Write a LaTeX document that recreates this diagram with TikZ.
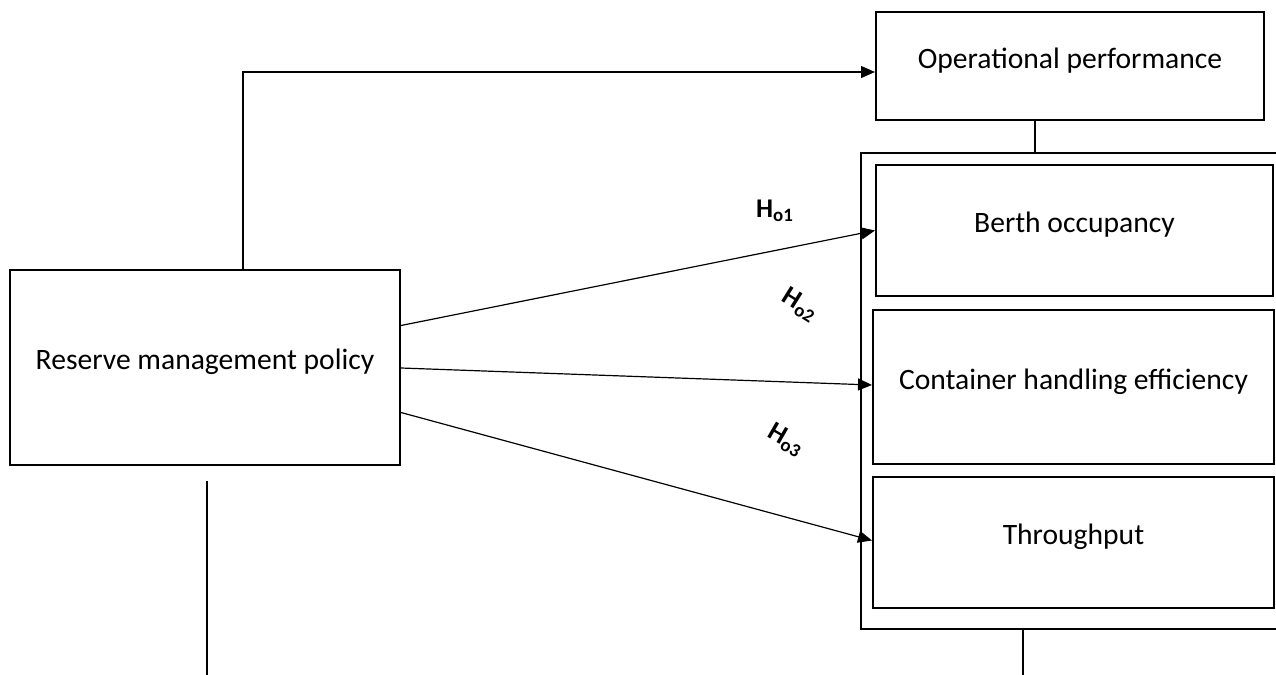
\documentclass[tikz,border=0pt]{standalone}
\usepackage{fontspec}
\setmainfont{Carlito}
\usetikzlibrary{arrows.meta,positioning,calc}

\begin{document}
\begin{tikzpicture}[
  x=0.5pt, y=-0.5pt, >={Triangle[length=7pt,width=6pt]},
  box/.style={draw=black, line width=1pt, fill=white, inner sep=0pt, font=\fontsize{14.8}{18}\selectfont, text height=10pt, text depth=8pt, align=center},
  arrow/.style={->, line width=0.6pt},
  link/.style={line width=0.6pt},
  hyp/.style={font=\fontsize{13.5}{15}\selectfont\bfseries, inner sep=1pt}
]
\useasboundingbox (0,0) rectangle (1276,675);
\clip (0,0) rectangle (1276,675);

% frame round the three performance measures
\node[draw, line width=1pt, minimum width=220pt, minimum height=238pt, anchor=north west] (group) at (860,152) {};

\node[box, minimum width=195pt, minimum height=97.5pt] (rmp) at (205,367.5) {Reserve management policy};
\node[box, minimum width=194pt, minimum height=54pt] (op) at (1070,66) {Operational performance};
\node[box, minimum width=198.5pt, minimum height=65.5pt] (berth) at (1074.5,230.5) {Berth occupancy};
\node[box, minimum width=200.5pt, minimum height=77pt] (cont) at (1073.5,387) {Container handling efficiency};
\node[box, minimum width=200.5pt, minimum height=65.5pt] (thr) at (1073.5,542.5) {Throughput};

% hypotheses
\node[hyp] (h1) at (775,211) {H\textsubscript{o1}};
\node[hyp, rotate=-32] (h2) at (800,305) {H\textsubscript{o2}};
\node[hyp, rotate=-30] (h3) at (786,440) {H\textsubscript{o3}};

\coordinate (topleg) at ($(op.south)+(-35,0)$);
\coordinate (rmpend) at (207,675);
\coordinate (grpend) at (1023,675);

\draw[arrow] ($(rmp.north)+(38,0)$) |- ($(op.west)+(0,6)$);
\draw[link] (topleg) -- (topleg |- group.north);
\draw[arrow] ($(rmp.east)+(0,-42)$) -- (berth.west);
\draw[arrow] ($(rmp.east)+(0,0.5)$) -- ($(cont.west)+(0,-2)$);
\draw[arrow] ($(rmp.east)+(0,45)$) -- ($(thr.west)+(0,-2)$);
\draw[link] ($(rmp.south)+(2,15)$) -- (rmpend);
\draw[link] (grpend |- group.south) -- (grpend);

\end{tikzpicture}
\end{document}
